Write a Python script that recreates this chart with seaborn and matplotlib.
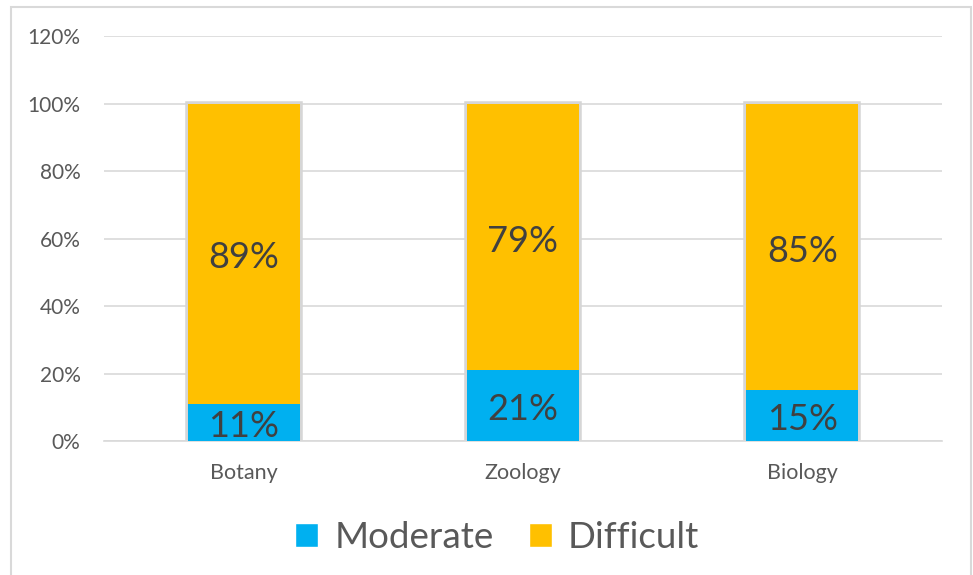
import matplotlib
matplotlib.use("Agg")
import matplotlib.pyplot as plt
from matplotlib.patches import Patch, Rectangle
import seaborn as sns
import pandas as pd

categories = ["Botany", "Zoology", "Biology"]
moderate = [11, 21, 15]
difficult = [89, 79, 85]
y_ticks = [0, 20, 40, 60, 80, 100, 120]

BLUE = "#00B0F0"
ORANGE = "#FFC000"
TXT = "#595959"
LBL = "#404040"

sns.set_theme(style="white")
plt.rcParams["font.family"] = ["Lato", "DejaVu Sans"]

df = pd.DataFrame({"cat": categories, "Moderate": moderate, "Difficult": difficult})
df["Total"] = df["Moderate"] + df["Difficult"]

fig = plt.figure(figsize=(9.73, 5.75), dpi=100)
ax = fig.add_axes([0.107, 0.233, 0.861, 0.704])

# soft shadow outline behind the stacked bars
sns.barplot(data=df, x="cat", y="Total", color="#d6d6d6", width=0.40, ax=ax,
            saturation=1, linewidth=4, edgecolor="#d6d6d6")
n_shadow = len(ax.patches)
sns.barplot(data=df, x="cat", y="Moderate", color=BLUE, width=0.40, ax=ax,
            saturation=1, linewidth=0)
sns.barplot(data=df, x="cat", y="Difficult", color=ORANGE, width=0.40, ax=ax,
            saturation=1, linewidth=0, bottom=df["Moderate"])

for k, p in enumerate(ax.patches):
    p.set_zorder(2 if k < n_shadow else 3)

for i, (m, d) in enumerate(zip(moderate, difficult)):
    ax.annotate(f"{m}%", (i, m / 2), xytext=(0, -3), textcoords="offset points",
                ha="center", va="center", fontsize=26, color=LBL, zorder=5)
    ax.annotate(f"{d}%", (i, m + d / 2), xytext=(0, -3), textcoords="offset points",
                ha="center", va="center", fontsize=26, color=LBL, zorder=5)

ax.set_ylim(0, 120)
ax.set_xlim(-0.5, 2.5)
ax.set_yticks(y_ticks)
ax.set_yticklabels([f"{t}%" for t in y_ticks])
ax.yaxis.grid(True, color="#d9d9d9", linewidth=1.2, zorder=0)
ax.set_axisbelow(True)
for s in ["top", "right", "left"]:
    ax.spines[s].set_visible(False)
ax.spines["bottom"].set_color("#d9d9d9")
ax.spines["bottom"].set_linewidth(1.2)
ax.set_xlabel("")
ax.set_ylabel("")
ax.tick_params(axis="y", labelsize=15, colors=TXT, length=0, pad=17)
ax.tick_params(axis="x", labelsize=15.5, colors=TXT, length=0, pad=16)

handles = [Patch(facecolor=BLUE, label="Moderate"), Patch(facecolor=ORANGE, label="Difficult")]
leg = fig.legend(handles=handles, loc="center", bbox_to_anchor=(0.511, 0.066), ncol=2,
                 frameon=False, fontsize=26.5, handlelength=0.62, handleheight=0.62,
                 handletextpad=0.45, columnspacing=0.95)
for t in leg.get_texts():
    t.set_color(TXT)

fig.patches.append(Rectangle((11 / 973, -0.01), 960 / 973, 1 - 7 / 575 + 0.01,
                             transform=fig.transFigure, fill=False,
                             edgecolor="#d9d9d9", linewidth=1.5))

fig.savefig("out.png", dpi=100)
